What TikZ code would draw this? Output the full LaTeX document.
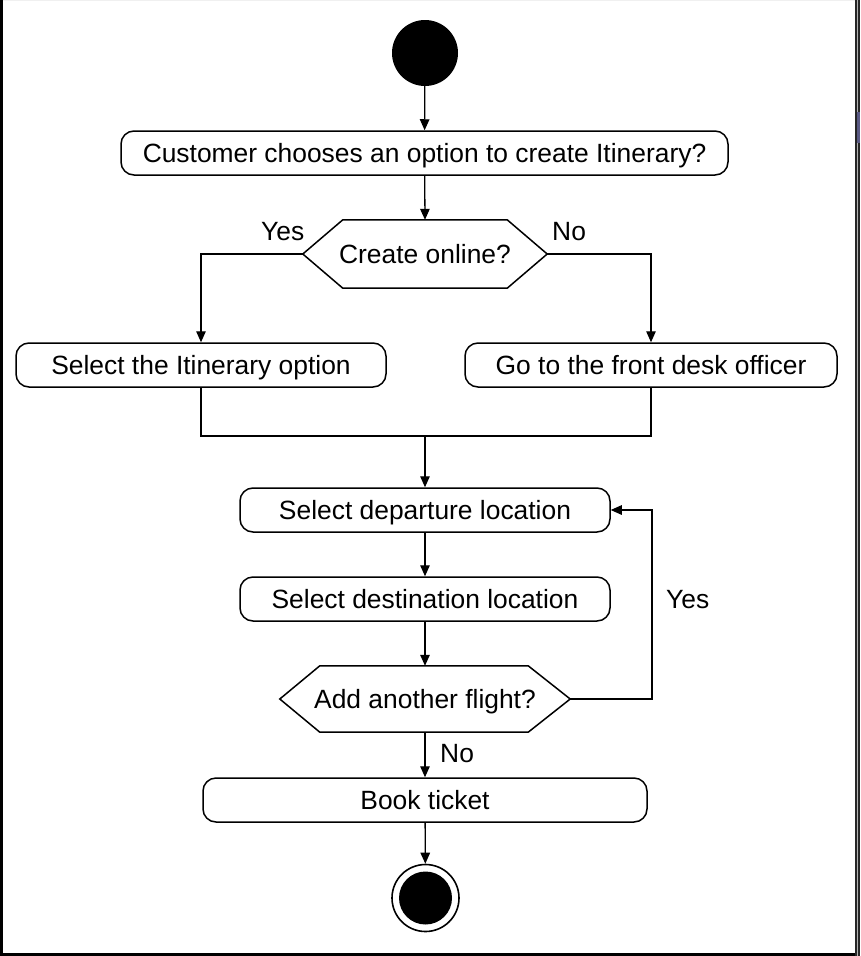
\documentclass[tikz,border=0pt]{standalone}
\usepackage{fontspec}
\setmainfont{Liberation Sans}
\usetikzlibrary{arrows.meta,calc}
\tikzset{
  txt/.style={font=\fontsize{26.4}{30}\selectfont, text height=21pt, text depth=3pt},
  actbox/.style={txt, draw, line width=1.5pt, rounded corners=13pt, minimum height=44pt, inner sep=0pt},
  declbl/.style={txt, inner sep=0pt},
  hexline/.style={draw, line width=1.5pt, line join=miter},
  conn/.style={line width=1.3pt},
  arr/.style={conn, -{Triangle[length=11pt,width=9.5pt]}},
  lbl/.style={inner sep=0pt, anchor=north west, font=\fontsize{26.4}{30}\selectfont}
}
\begin{document}
\begin{tikzpicture}[x=1pt,y=-1pt]
\useasboundingbox (0,0) rectangle (860,956);
% frame
\fill[gray!12] (0,0) rectangle (860,1.3);
\fill[black] (0,0) rectangle (2.6,956);
\fill[black] (0,953) rectangle (860,956);
\fill[black!85] (855,0) rectangle (860,956);
\fill[gray!60] (856.5,0) rectangle (857.5,956);
\fill[blue!25!black!65] (857,112) rectangle (860,143);

% nodes
\node[circle, fill=black, minimum size=66pt, inner sep=0pt] (start) at (425,53) {};
\node[actbox, minimum width=607pt] (cust) at (424.5,153) {Customer chooses an option to create Itinerary?};
\node[declbl, minimum width=244pt, minimum height=68pt] (d1) at (425,254) {Create online?};
\draw[hexline] (d1.west) -- ($(d1.north west)+(40,0)$) -- ($(d1.north east)+(-40,0)$) -- (d1.east) -- ($(d1.south east)+(-40,0)$) -- ($(d1.south west)+(40,0)$) -- cycle;
\node[actbox, minimum width=370pt] (sel) at (201,365) {Select the Itinerary option};
\node[actbox, minimum width=372pt] (front) at (651,365) {Go to the front desk officer};
\coordinate (j) at (425,436);
\node[actbox, minimum width=370pt] (dep) at (425,510) {Select departure location};
\node[actbox, minimum width=370pt] (dest) at (425,599) {Select destination location};
\node[declbl, minimum width=290pt, minimum height=66pt] (d2) at (425,699) {Add another flight?};
\draw[hexline] (d2.west) -- ($(d2.north west)+(40,0)$) -- ($(d2.north east)+(-42,0)$) -- (d2.east) -- ($(d2.south east)+(-42,0)$) -- ($(d2.south west)+(40,0)$) -- cycle;
\coordinate (lp) at (652,699);
\node[actbox, minimum width=444pt] (book) at (425,800) {Book ticket};
\node[circle, draw=black, line width=1.6pt, minimum size=67pt, inner sep=0pt] (end) at (425.5,898) {};
\node[circle, fill=black, minimum size=53pt, inner sep=0pt] (endin) at (425.5,898) {};

% connectors
\draw[arr] (start) -- (cust);
\draw[arr] (cust) -- (d1.north);
\draw[arr] (d1.west) -| (sel.north);
\draw[arr] (d1.east) -| (front.north);
\draw[conn] (sel.south) |- (j) -| (front.south);
\draw[arr] (j) -- (dep.north);
\draw[arr] (dep) -- (dest);
\draw[arr] (dest) -- (d2.north);
\draw[arr] (d2.east) -- (lp) |- (dep.east);
\draw[arr] (d2.south) -- (book.north);
\draw[arr] (book) -- (end);

% labels
\node[lbl] (yes1) at (261,222) {Yes};
\node[lbl] (no1) at (552,222) {No};
\node[lbl] (yes2) at (666,590) {Yes};
\node[lbl] (no2) at (440,744) {No};
\end{tikzpicture}
\end{document}
